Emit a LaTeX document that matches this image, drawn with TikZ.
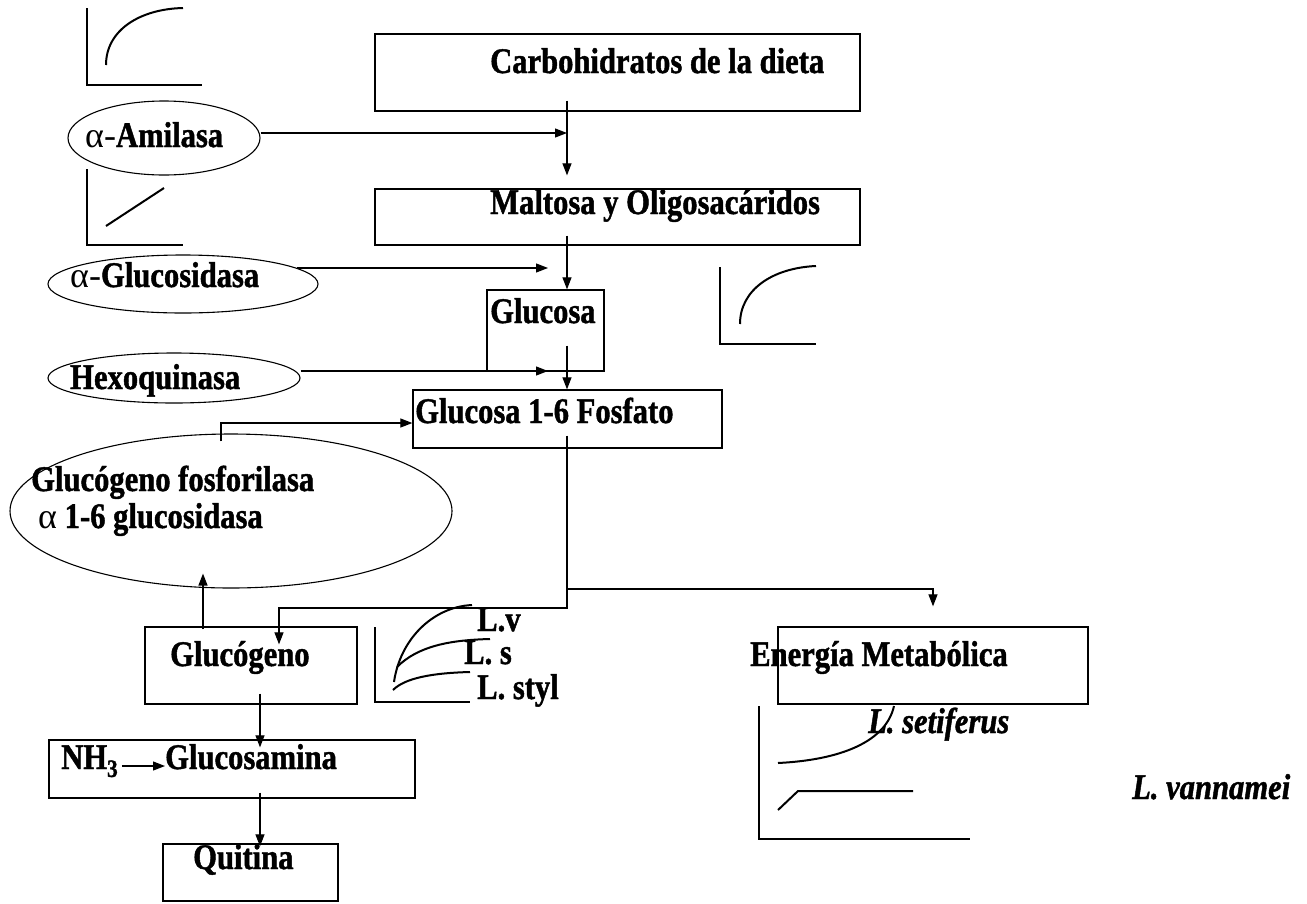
\documentclass[tikz,border=0pt]{standalone}
\usepackage{fontspec}
\newfontfamily\tnr{Liberation Serif}[FakeStretch=0.85,FakeBold=1.2]
\newfontfamily\tnrplain{Liberation Serif}
\usetikzlibrary{arrows.meta,shapes.geometric,fit}
\newcommand{\alf}{{\tnrplain\mdseries α-}}
\newcommand{\alfs}{{\tnrplain\mdseries α}}
\newcommand{\subthree}{\raisebox{-0.22em}{\fontsize{25}{25}\selectfont 3}}
\begin{document}
\begin{tikzpicture}[x=1pt,y=-1pt,
  box/.style={draw,line width=1.3pt,inner sep=0pt},
  ell/.style={draw,ellipse,line width=1.1pt,inner sep=0pt},
  lbl/.style={anchor=base west,inner sep=0pt,font={\tnr\bfseries\fontsize{36}{42}\selectfont}},
  ilbl/.style={anchor=base west,inner sep=0pt,font={\tnr\bfseries\itshape\fontsize{36}{42}\selectfont}},
  arr/.style={line width=1.2pt,-{Triangle[length=12pt,width=9pt]}},
  ax/.style={line width=2pt},
  crv/.style={line width=2pt}
]
\useasboundingbox (0,0) rectangle (1307,903);
\fill[white] (0,0) rectangle (1307,903);

% helper coordinates
\coordinate (vx) at (567,0);
\coordinate (tx) at (548,0);
\coordinate (fx) at (221,0);
\coordinate (gx) at (279,0);
\coordinate (hx) at (203,0);
\coordinate (kx) at (260,0);
\coordinate (ex) at (933,0);
\coordinate (jy) at (0,608);
\coordinate (by) at (0,589);

% boxes
\node[box,fit={(375,34) (860,111)}] (carb) {};
\node[box,fit={(375,189) (860,245)}] (malt) {};
\node[box,fit={(487,290) (604,371)}] (glc) {};
\node[box,fit={(413,390) (722,448)}] (g16p) {};
\node[box,fit={(145,627) (357,704)}] (glyc) {};
\node[box,fit={(49,740) (415,798)}] (glcn) {};
\node[box,fit={(163,844) (338,901)}] (quit) {};
\node[box,fit={(778,627) (1088,704)}] (ener) {};

% ellipses
\node[ell,minimum width=192pt,minimum height=74pt] (amil) at (164,138) {};
\node[ell,minimum width=270pt,minimum height=58pt] (gcd) at (183,284) {};
\node[ell,minimum width=252pt,minimum height=50pt] (hexo) at (174,378) {};
\node[ell,minimum width=442pt,minimum height=154pt] (gfe) at (231,511) {};

% labels
\node[lbl] (tcarb) at (490,73) {Carbohidratos de la dieta};
\node[lbl] (tmalt) at (490,214) {Maltosa y Oligosacáridos};
\node[lbl] (tglc) at (490,323) {Glucosa};
\node[lbl] (tg16p) at (415,423) {Glucosa 1-6 Fosfato};
\node[lbl] (tamil) at (85,147) {\alf Amilasa};
\node[lbl] (tgcd) at (70,287) {\alf Glucosidasa};
\node[lbl] (thexo) at (70,389) {Hexoquinasa};
\node[lbl] (tgf1) at (31,491) {Glucógeno fosforilasa};
\node[lbl] (tgf2) at (38,528) {\alfs\ 1-6 glucosidasa};
\node[lbl] (tglyc) at (170,666) {Glucógeno};
\node[lbl] (nh) at (61,769) {NH\subthree};
\node[lbl] (glcs) at (165,769) {Glucosamina};
\node[lbl] (tquit) at (193,869) {Quitina};
\node[lbl] (tlv) at (477,631) {L.v};
\node[lbl] (tls) at (464,664) {L. s};
\node[lbl] (tlst) at (477,699) {L. styl};
\node[lbl] (tener) at (750,666) {Energía Metabólica};
\node[ilbl] (tset) at (868,733) {L. setiferus};
\node[ilbl] (tvan) at (1132,799) {L. vannamei};

% connectors
\draw[arr] ([yshift=11pt]carb.south -| vx) -- ([yshift=13pt]malt.north -| vx);
\draw[arr] ([yshift=5pt]amil.east) -- ([yshift=5pt]amil.east -| vx);
\draw[arr] ([yshift=10pt]malt.south -| vx) -- (glc.north -| vx);
\draw[arr] (gcd.8) -- (gcd.8 -| tx);
\draw[arr] ([yshift=26pt]glc.south -| vx) -- (g16p.north -| vx);
\draw[arr] ([yshift=7pt]hexo.east) -- ([yshift=7pt]hexo.east -| tx);
\draw[arr] ([yshift=-8pt]gfe.north -| fx) |- ([yshift=-4pt]g16p.west);
\draw[arr] ([yshift=13pt]g16p.south -| vx) -- (vx |- jy) -| ([yshift=-18pt]glyc.north -| gx);
\draw[arr] (vx |- by) -| ([yshift=20pt]ener.north -| ex);
\draw[arr] ([yshift=-3pt]glyc.north -| hx) -- ([yshift=15pt]gfe.south -| hx);
\draw[arr] ([yshift=11pt]glyc.south -| kx) -- ([yshift=-8pt]glcn.north -| kx);
\draw[arr] ([yshift=6pt]glcn.south -| kx) -- ([yshift=-3pt]quit.north -| kx);
\draw[arr] ([xshift=4pt,yshift=3pt]nh.base east) -- ([yshift=3pt]glcs.base west);

% small graphs
\draw[ax] (87,8) -- (87,85) -- (202,85);
\draw[crv] (106,65) .. controls (106,30) and (140,9) .. (183,8);
\draw[ax] (87,169) -- (87,245) -- (183,245);
\draw[crv] (106,226) -- (164,188);
\draw[ax] (720,267) -- (720,344) -- (816,344);
\draw[crv] (740,324) .. controls (740,290) and (772,268) .. (816,266);
\draw[ax] (375,627) -- (375,702) -- (470,702);
\draw[crv] (394,682) .. controls (400,640) and (432,607) .. (472,605);
\draw[crv] (397,667) .. controls (418,646) and (450,640) .. (490,639);
\draw[crv] (393,690) .. controls (405,678) and (432,673) .. (470,672);
\draw[ax] (759,706) -- (759,839) -- (970,839);
\draw[crv] (778,763) .. controls (840,760) and (886,742) .. (894,706);
\draw[crv] (778,810) -- (798,791) -- (913,791);
\end{tikzpicture}
\end{document}
